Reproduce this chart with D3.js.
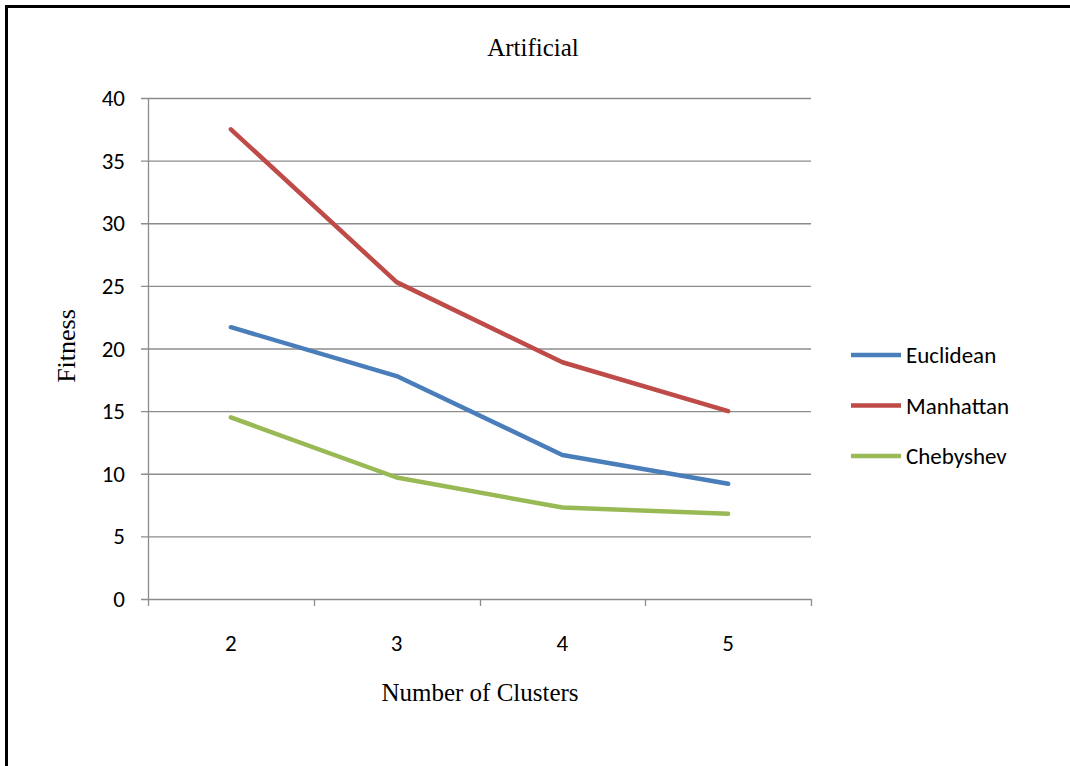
<!DOCTYPE html>
<html><head><meta charset="utf-8">
<script src="https://cdn.jsdelivr.net/npm/d3@7"></script>
<style>body{margin:0;background:#fff}svg{display:block}</style>
</head><body>
<svg id="c" width="1070" height="766"></svg>
<script>
const categories = ["2", "3", "4", "5"];
const seriesNames = ["Euclidean", "Manhattan", "Chebyshev"];
const euclidean = [21.7, 17.8, 11.5, 9.2];
const manhattan = [37.5, 25.3, 18.9, 15.0];
const chebyshev = [14.5, 9.7, 7.3, 6.8];
const yTicks = [0, 5, 10, 15, 20, 25, 30, 35, 40];
const colors = ["#4a7ebb", "#be4b48", "#98b954"];
const series = [euclidean, manhattan, chebyshev];

const sans = "Carlito, Calibri, 'Liberation Sans', Arial, sans-serif";
const serif = "'Liberation Serif', 'Times New Roman', serif";

const svg = d3.select("#c");
svg.append("rect").attr("x", 6.5).attr("y", 6.5).attr("width", 1080).attr("height", 780)
  .attr("fill", "none").attr("stroke", "#000").attr("stroke-width", 3);

const L = 148, R = 811, T = 98, B = 599;
const x = d3.scaleBand().domain(categories).range([L, R]);
const y = d3.scaleLinear().domain([0, 40]).range([B, T]);

// gridlines
svg.append("g").selectAll("line").data(yTicks).join("line")
  .attr("x1", L - 7).attr("x2", R).attr("y1", d => y(d) + 0.5).attr("y2", d => y(d) + 0.5)
  .attr("stroke", "#8c8c8c").attr("stroke-width", 1.3);
// y axis line
svg.append("line").attr("x1", L + 0.5).attr("x2", L + 0.5).attr("y1", T).attr("y2", B + 1)
  .attr("stroke", "#8c8c8c").attr("stroke-width", 1.3);
// x tick marks at band edges
const edges = categories.map(c => x(c)).concat([R]);
svg.append("g").selectAll("line").data(edges).join("line")
  .attr("x1", d => Math.round(d) + 0.5).attr("x2", d => Math.round(d) + 0.5)
  .attr("y1", B).attr("y2", B + 7)
  .attr("stroke", "#8c8c8c").attr("stroke-width", 1.3);

// y tick labels
svg.append("g").selectAll("text").data(yTicks).join("text")
  .attr("x", 125).attr("y", d => y(d) + 8).attr("text-anchor", "end")
  .attr("font-family", sans).attr("font-size", 23)
  .attr("fill", "#000").text(d => d);
// x tick labels
svg.append("g").selectAll("text").data(categories).join("text")
  .attr("x", d => x(d) + x.bandwidth() / 2).attr("y", 651).attr("text-anchor", "middle")
  .attr("font-family", sans).attr("font-size", 23)
  .attr("fill", "#000").text(d => d);

// lines
const line = d3.line().x((d, i) => x(categories[i]) + x.bandwidth() / 2).y(d => y(d));
svg.append("g").selectAll("path").data(series).join("path")
  .attr("d", d => line(d)).attr("fill", "none")
  .attr("stroke", (d, i) => colors[i]).attr("stroke-width", 4.5)
  .attr("stroke-linejoin", "round").attr("stroke-linecap", "round");

// title & axis titles
svg.append("text").attr("x", 533).attr("y", 56).attr("text-anchor", "middle")
  .attr("font-family", serif).attr("font-size", 25)
  .text("Artificial");
svg.append("text").attr("x", 480).attr("y", 701).attr("text-anchor", "middle")
  .attr("font-family", serif).attr("font-size", 25)
  .text("Number of Clusters");
svg.append("text").attr("transform", "translate(75,346) rotate(-90)").attr("text-anchor", "middle")
  .attr("font-family", serif).attr("font-size", 26)
  .text("Fitness");

// legend
const lg = svg.append("g").selectAll("g").data(seriesNames).join("g")
  .attr("transform", (d, i) => `translate(851,${355 + i * 50.5})`);
lg.append("line").attr("x1", 0).attr("x2", 50).attr("y1", 0).attr("y2", 0)
  .attr("stroke", (d, i) => colors[i]).attr("stroke-width", 4.5);
lg.append("text").attr("x", 55).attr("y", 8)
  .attr("font-family", sans).attr("font-size", 23)
  .text(d => d);
</script>
</body></html>
